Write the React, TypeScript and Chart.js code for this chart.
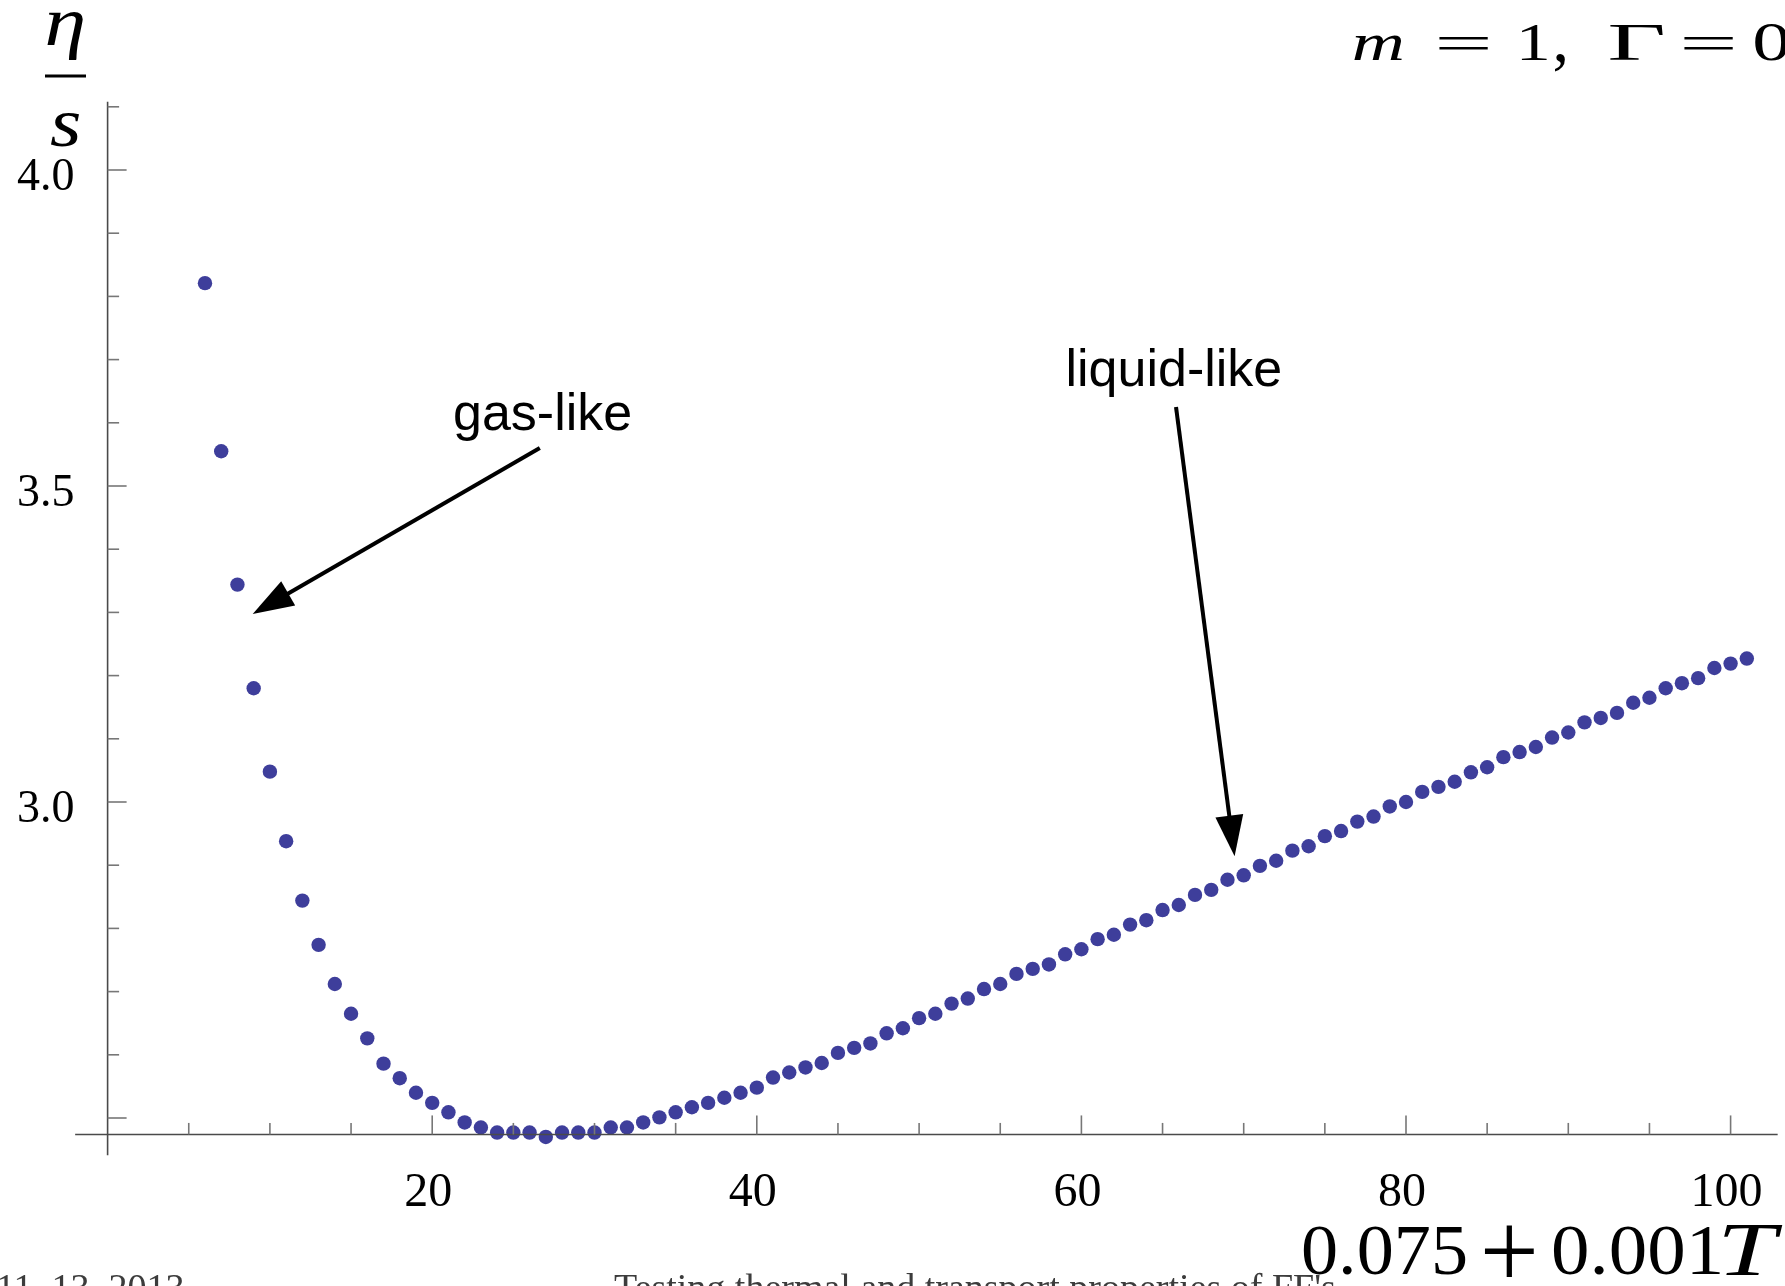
import React, { useEffect, useRef } from "react";
import { Chart, registerables } from "chart.js";

Chart.register(...registerables);

// ---------------- data ----------------
const xValues = [
  6, 7, 8, 9, 10, 11, 12, 13, 14, 15, 16, 17, 18, 19, 20, 21, 22, 23, 24, 25,
  26, 27, 28, 29, 30, 31, 32, 33, 34, 35, 36, 37, 38, 39, 40, 41, 42, 43, 44, 45,
  46, 47, 48, 49, 50, 51, 52, 53, 54, 55, 56, 57, 58, 59, 60, 61, 62, 63, 64, 65,
  66, 67, 68, 69, 70, 71, 72, 73, 74, 75, 76, 77, 78, 79, 80, 81, 82, 83, 84, 85,
  86, 87, 88, 89, 90, 91, 92, 93, 94, 95, 96, 97, 98, 99, 100, 101,
];

const etaOverS = [
  3.821, 3.555, 3.344, 3.18, 3.048, 2.938, 2.844, 2.774, 2.712, 2.665,
  2.626, 2.586, 2.563, 2.54, 2.524, 2.509, 2.493, 2.485, 2.477, 2.477,
  2.477, 2.47, 2.477, 2.477, 2.477, 2.485, 2.485, 2.493, 2.501, 2.509,
  2.517, 2.524, 2.532, 2.54, 2.548, 2.564, 2.572, 2.58, 2.587, 2.603,
  2.611, 2.618, 2.634, 2.642, 2.658, 2.665, 2.681, 2.689, 2.704, 2.712,
  2.728, 2.736, 2.743, 2.759, 2.767, 2.783, 2.79, 2.806, 2.813, 2.829,
  2.837, 2.853, 2.861, 2.877, 2.884, 2.899, 2.907, 2.923, 2.93, 2.946,
  2.954, 2.969, 2.977, 2.993, 3.0, 3.016, 3.024, 3.032, 3.047, 3.055,
  3.071, 3.079, 3.087, 3.102, 3.11, 3.126, 3.133, 3.141, 3.157, 3.165,
  3.18, 3.188, 3.196, 3.212, 3.219, 3.227,
];

const xMajorTicks = [20, 40, 60, 80, 100];
const xMinorTicks = [5, 10, 15, 25, 30, 35, 45, 50, 55, 65, 70, 75, 85, 90, 95];
const xTickLabels = ["20", "40", "60", "80", "100"];

const yMajorTicks = [2.5, 3.0, 3.5, 4.0];
const yMinorTicks = [2.6, 2.7, 2.8, 2.9, 3.1, 3.2, 3.3, 3.4, 3.6, 3.7, 3.8, 3.9, 4.1];
const yLabelValues = [3.0, 3.5, 4.0];
const yTickLabels = ["3.0", "3.5", "4.0"];

const annotationLabels = ["gas-like", "liquid-like"];

// ---------------- layout (data-space) ----------------
const X_MIN = -6.63;
const X_MAX = 103.352;
const Y_MIN = 2.23418;
const Y_MAX = 4.26899;

const AXIS_CROSS_X = 0;
const AXIS_CROSS_Y = 2.474;
const AXIS_X_FROM = -2.0;
const AXIS_X_TO = 102.9;
const AXIS_Y_FROM = 2.441;
const AXIS_Y_TO = 4.108;

// annotation geometry in data coordinates
const annotTextPos = [
  { x: 21.28, y: 3.5886 },
  { x: 59.02, y: 3.6582 },
];
const arrowFrom = [
  { x: 26.63, y: 3.56 },
  { x: 65.83, y: 3.625 },
];
const arrowTo = [
  { x: 8.94, y: 3.2975 },
  { x: 69.44, y: 2.914 },
];

const POINT_COLOR = "rgb(62,62,155)";
const AXIS_COLOR = "#4a4a4a";
const TICK_COLOR = "#777777";
const SERIF = '"Liberation Serif", "Times New Roman", serif';
const SANS = '"Liberation Sans", Arial, sans-serif';

function drawInk(
  ctx: CanvasRenderingContext2D,
  text: string,
  font: string,
  l: number,
  t: number,
  r: number,
  b: number
) {
  ctx.save();
  ctx.font = font;
  ctx.textAlign = "left";
  ctx.textBaseline = "alphabetic";
  const m = ctx.measureText(text);
  const iw = m.actualBoundingBoxLeft + m.actualBoundingBoxRight;
  const ih = m.actualBoundingBoxAscent + m.actualBoundingBoxDescent;
  const sx = (r - l) / iw;
  const sy = (b - t) / ih;
  ctx.translate(l + m.actualBoundingBoxLeft * sx, t + m.actualBoundingBoxAscent * sy);
  ctx.scale(sx, sy);
  ctx.fillText(text, 0, 0);
  ctx.restore();
}

function drawArrow(
  ctx: CanvasRenderingContext2D,
  x1: number,
  y1: number,
  x2: number,
  y2: number
) {
  const headLen = 41;
  const halfW = 14;
  const dx = x2 - x1;
  const dy = y2 - y1;
  const len = Math.sqrt(dx * dx + dy * dy);
  const ux = dx / len;
  const uy = dy / len;
  const bx = x2 - ux * headLen;
  const by = y2 - uy * headLen;
  ctx.save();
  ctx.strokeStyle = "#000";
  ctx.fillStyle = "#000";
  ctx.lineWidth = 4;
  ctx.beginPath();
  ctx.moveTo(x1, y1);
  ctx.lineTo(bx + ux * 4, by + uy * 4);
  ctx.stroke();
  ctx.beginPath();
  ctx.moveTo(x2, y2);
  ctx.lineTo(bx - uy * halfW, by + ux * halfW);
  ctx.lineTo(bx + uy * halfW, by - ux * halfW);
  ctx.closePath();
  ctx.fill();
  ctx.restore();
}

const decorPlugin = {
  id: "mmaDecor",
  beforeDatasetsDraw(chart: any) {
    const ctx: CanvasRenderingContext2D = chart.ctx;
    ctx.save();
    ctx.fillStyle = "#3c3c3c";
    ctx.font = `38px ${SERIF}`;
    ctx.textAlign = "left";
    ctx.textBaseline = "alphabetic";
    ctx.fillText("11. 13. 2013", -4, 1300);
    ctx.fillText("Testing thermal and transport properties of FF's", 614, 1300);
    ctx.restore();
  },
  afterDatasetsDraw(chart: any) {
    const ctx: CanvasRenderingContext2D = chart.ctx;
    const xs = chart.scales.x;
    const ys = chart.scales.y;
    const X = (v: number) => xs.getPixelForValue(v);
    const Y = (v: number) => ys.getPixelForValue(v);
    ctx.save();

    // axes
    ctx.strokeStyle = AXIS_COLOR;
    ctx.lineWidth = 1.6;
    ctx.beginPath();
    ctx.moveTo(X(AXIS_X_FROM), Y(AXIS_CROSS_Y));
    ctx.lineTo(X(AXIS_X_TO), Y(AXIS_CROSS_Y));
    ctx.stroke();
    ctx.beginPath();
    ctx.moveTo(X(AXIS_CROSS_X), Y(AXIS_Y_FROM));
    ctx.lineTo(X(AXIS_CROSS_X), Y(AXIS_Y_TO));
    ctx.stroke();

    // ticks (inward)
    ctx.strokeStyle = TICK_COLOR;
    ctx.lineWidth = 1.6;
    const y0 = Y(AXIS_CROSS_Y);
    const x0 = X(AXIS_CROSS_X);
    xMajorTicks.forEach((v) => {
      ctx.beginPath();
      ctx.moveTo(X(v), y0);
      ctx.lineTo(X(v), y0 - 19);
      ctx.stroke();
    });
    xMinorTicks.forEach((v) => {
      ctx.beginPath();
      ctx.moveTo(X(v), y0);
      ctx.lineTo(X(v), y0 - 11.5);
      ctx.stroke();
    });
    yMajorTicks.forEach((v) => {
      ctx.beginPath();
      ctx.moveTo(x0, Y(v));
      ctx.lineTo(x0 + 19, Y(v));
      ctx.stroke();
    });
    yMinorTicks.forEach((v) => {
      ctx.beginPath();
      ctx.moveTo(x0, Y(v));
      ctx.lineTo(x0 + 11.5, Y(v));
      ctx.stroke();
    });

    // tick labels
    ctx.fillStyle = "#000";
    ctx.textBaseline = "alphabetic";
    ctx.font = `48px ${SERIF}`;
    ctx.textAlign = "center";
    xMajorTicks.forEach((v, i) => {
      ctx.fillText(xTickLabels[i], X(v) - 4, y0 + 72);
    });
    ctx.font = `46px ${SERIF}`;
    ctx.textAlign = "right";
    yLabelValues.forEach((v, i) => {
      ctx.fillText(yTickLabels[i], x0 - 33, Y(v) + 20);
    });

    // annotations
    ctx.font = `52px ${SANS}`;
    ctx.textAlign = "left";
    annotationLabels.forEach((t, i) => {
      ctx.fillText(t, X(annotTextPos[i].x), Y(annotTextPos[i].y));
    });
    arrowFrom.forEach((f, i) => {
      drawArrow(ctx, X(f.x), Y(f.y), X(arrowTo[i].x), Y(arrowTo[i].y));
    });

    // y-axis label eta / s
    ctx.fillStyle = "#000";
    drawInk(ctx, "\u03b7", `italic 70px ${SERIF}`, 47, 12, 83, 60);
    ctx.fillRect(45, 74.5, 41, 3);
    drawInk(ctx, "s", `italic 70px ${SERIF}`, 50, 113, 80, 147);

    // title m = 1, Gamma = 0
    drawInk(ctx, "m", `italic 54px ${SERIF}`, 1353, 35, 1402, 60);
    drawInk(ctx, "=", `54px ${SERIF}`, 1438, 37, 1488, 50);
    drawInk(ctx, "1", `54px ${SERIF}`, 1521, 25, 1547, 60);
    drawInk(ctx, ",", `54px ${SERIF}`, 1555, 53, 1566, 72);
    drawInk(ctx, "\u0393", `80px ${SERIF}`, 1610, 25, 1663, 60);
    drawInk(ctx, "=", `54px ${SERIF}`, 1683, 37, 1733, 50);
    drawInk(ctx, "0", `54px ${SERIF}`, 1755, 24, 1788, 61);

    // x-axis label 0.075 + 0.001T
    drawInk(ctx, "0.075", `74px ${SERIF}`, 1303, 1225, 1466, 1275);
    drawInk(ctx, "+", `74px ${SERIF}`, 1484, 1226, 1535, 1278);
    drawInk(ctx, "0.001", `74px ${SERIF}`, 1553, 1225, 1720, 1275);
    drawInk(ctx, "T", `italic 74px ${SERIF}`, 1723, 1225, 1783, 1275);

    ctx.restore();
  },
};

export default function App() {
  const canvasRef = useRef<HTMLCanvasElement | null>(null);

  useEffect(() => {
    const canvas = canvasRef.current;
    if (!canvas) return;
    const points = xValues.map((x, i) => ({ x, y: etaOverS[i] }));
    const chart = new Chart(canvas, {
      type: "scatter",
      data: {
        datasets: [
          {
            data: points,
            pointRadius: 7.2,
            pointHoverRadius: 7.2,
            pointBackgroundColor: POINT_COLOR,
            pointBorderWidth: 0,
            borderWidth: 0,
            showLine: false,
          } as any,
        ],
      },
      options: {
        responsive: false,
        maintainAspectRatio: false,
        animation: false,
        devicePixelRatio: 1,
        events: [],
        layout: { padding: 0, autoPadding: false },
        plugins: {
          legend: { display: false },
          tooltip: { enabled: false },
          title: { display: false },
        },
        scales: {
          x: { type: "linear", min: X_MIN, max: X_MAX, display: false },
          y: { type: "linear", min: Y_MIN, max: Y_MAX, display: false },
        },
      } as any,
      plugins: [decorPlugin as any],
    });
    return () => chart.destroy();
  }, []);

  return (
    <div
      style={{
        position: "absolute",
        left: 0,
        top: 0,
        width: 1785,
        height: 1286,
        background: "#fff",
        overflow: "hidden",
      }}
    >
      <canvas
        ref={canvasRef}
        width={1785}
        height={1286}
        style={{ display: "block", width: 1785, height: 1286 }}
      />
    </div>
  );
}
